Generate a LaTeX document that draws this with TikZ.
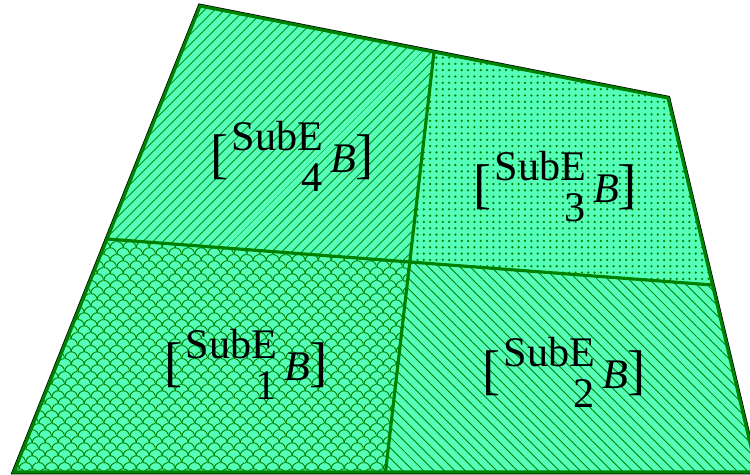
\documentclass[tikz,border=0pt]{standalone}
\usepackage{fontspec}
\setmainfont{Liberation Serif}
\usetikzlibrary{calc, patterns.meta}

\definecolor{subfill}{RGB}{85,255,185}
\definecolor{subline}{RGB}{0,128,0}

\pgfdeclarepattern{
  name=shingles, type=uncolored,
  bottom left={\pgfpointorigin}, top right={\pgfpoint{7.5pt}{7.5pt}},
  tile size={\pgfpoint{7.5pt}{7.5pt}},
  code={
    \pgfsetlinewidth{0.55pt}
    \pgfpathmoveto{\pgfpoint{7.5pt}{0pt}}
    \pgfpatharc{0}{180}{3.75pt}
    \pgfpathmoveto{\pgfpoint{3.75pt}{3.75pt}}
    \pgfpatharc{0}{90}{3.75pt}
    \pgfpathmoveto{\pgfpoint{7.5pt}{7.5pt}}
    \pgfpatharc{90}{180}{3.75pt}
    \pgfusepath{stroke}
  }
}

\newcommand{\subElbl}[1]{{\fontsize{31}{31}\selectfont[}\hspace{2pt}\raisebox{13pt}{SubE}\llap{\raisebox{-10.8pt}{#1}}\hspace{4pt}\textit{B}{\fontsize{31}{31}\selectfont]}}

\begin{document}
\begin{tikzpicture}[
    x=0.02cm, y=-0.02cm,
    region/.style={preaction={fill=subfill}, pattern color=subline},
    edge/.style={draw=subline, line width=1.8pt},
    lbl/.style={anchor=base, inner sep=0pt, font=\fontsize{24}{28}\selectfont},
]
\useasboundingbox (0,0) rectangle (750,475);
% corners of the element
\coordinate (bl) at (14,472);
\coordinate (br) at (757,472);
\coordinate (tr) at (668,98);
\coordinate (tl) at (200,6);
% edge midpoints and centre
\coordinate (mb) at ($(bl)!0.5!(br)$);
\coordinate (mr) at ($(br)!0.5!(tr)$);
\coordinate (mt) at ($(tr)!0.5!(tl)$);
\coordinate (ml) at ($(tl)!0.5!(bl)$);
\coordinate (c) at ($(ml)!0.5!(mr)$);

\draw[black, line width=2.6pt] (bl) -- (br) -- (tr) -- (tl) -- cycle;
\path[region, pattern={shingles}] (bl) -- (mb) -- (c) -- (ml) -- cycle;
\path[region, pattern={Lines[angle=-45, distance=4.2pt, line width=0.5pt]}] (mb) -- (br) -- (mr) -- (c) -- cycle;
\path[region, pattern={Dots[distance=3.6pt, radius=0.7pt]}] (c) -- (mr) -- (tr) -- (mt) -- cycle;
\path[region, pattern={Lines[angle=45, distance=4pt, line width=0.5pt]}] (ml) -- (c) -- (mt) -- (tl) -- cycle;
\draw[edge] (ml) -- (mr) (mt) -- (mb);
\draw[edge] (bl) -- (br) -- (tr) -- (tl) -- cycle;

\node[lbl] (sub1) at (246,381) {\subElbl{1}};
\node[lbl] (sub2) at (564,389) {\subElbl{2}};
\node[lbl] (sub3) at (555,203) {\subElbl{3}};
\node[lbl] (sub4) at (292,173) {\subElbl{4}};
\end{tikzpicture}
\end{document}
